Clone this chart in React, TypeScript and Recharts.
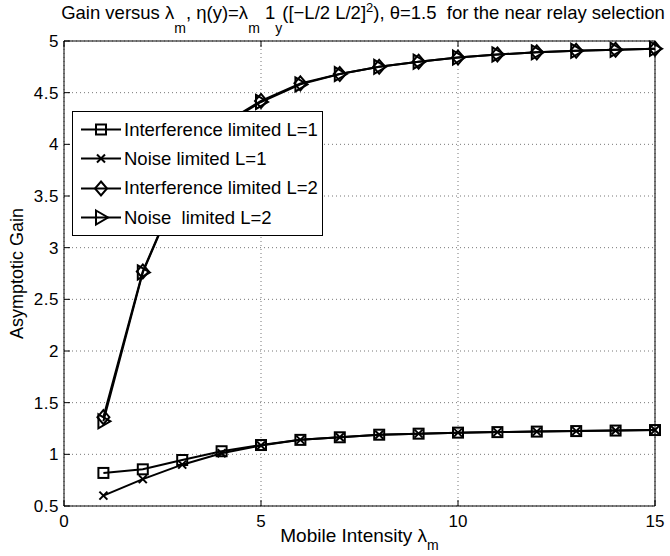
import React from 'react';
import { LineChart, Line, XAxis, YAxis, CartesianGrid, Legend } from 'recharts';

const mobileIntensity = [1, 2, 3, 4, 5, 6, 7, 8, 9, 10, 11, 12, 13, 14, 15];
const interferenceL1 = [0.82, 0.855, 0.945, 1.03, 1.09, 1.14, 1.165, 1.19, 1.2, 1.21, 1.215, 1.22, 1.225, 1.23, 1.235];
const noiseL1 = [0.6, 0.76, 0.9, 1.01, 1.085, 1.14, 1.165, 1.19, 1.2, 1.21, 1.215, 1.22, 1.225, 1.23, 1.235];
const interferenceL2 = [1.36, 2.77, 3.66, 4.19, 4.42, 4.59, 4.68, 4.75, 4.8, 4.84, 4.87, 4.89, 4.905, 4.915, 4.925];
const noiseL2 = [1.32, 2.76, 3.65, 4.18, 4.41, 4.58, 4.68, 4.75, 4.8, 4.84, 4.87, 4.89, 4.905, 4.915, 4.925];

const xTicks = [0, 5, 10, 15];
const yTicks = [0.5, 1, 1.5, 2, 2.5, 3, 3.5, 4, 4.5, 5];

const seriesNames = [
  'Interference limited L=1',
  'Noise limited L=1',
  'Interference limited L=2',
  'Noise  limited L=2',
];
const seriesKeys = ['intL1', 'noiseL1', 'intL2', 'noiseL2'];
const seriesShapes = ['square', 'cross', 'diamond', 'triangle'];

const data = mobileIntensity.map((x, i) => ({
  x,
  intL1: interferenceL1[i],
  noiseL1: noiseL1[i],
  intL2: interferenceL2[i],
  noiseL2: noiseL2[i],
}));

const FONT = '"Liberation Sans", Arial, Helvetica, sans-serif';

function Marker({ shape, cx, cy }: { shape: string; cx: number; cy: number }) {
  const common = { stroke: '#000', strokeWidth: 2, fill: 'none' };
  if (shape === 'square') {
    return <rect x={cx - 5} y={cy - 5} width={10} height={10} {...common} />;
  }
  if (shape === 'cross') {
    return (
      <g {...common}>
        <line x1={cx - 4} y1={cy - 4} x2={cx + 4} y2={cy + 4} />
        <line x1={cx - 4} y1={cy + 4} x2={cx + 4} y2={cy - 4} />
      </g>
    );
  }
  if (shape === 'diamond') {
    return (
      <polygon
        points={`${cx},${cy - 7} ${cx + 6},${cy} ${cx},${cy + 7} ${cx - 6},${cy}`}
        {...common}
      />
    );
  }
  return (
    <polygon
      points={`${cx - 5},${cy - 7} ${cx + 7},${cy} ${cx - 5},${cy + 7}`}
      {...common}
    />
  );
}

const makeDot = (shape: string) => (props: any) => {
  const { cx, cy, index } = props;
  if (cx == null || cy == null) return <g key={`e${index}`} />;
  return (
    <g key={`${shape}-${index}`}>
      <Marker shape={shape} cx={cx} cy={cy} />
    </g>
  );
};

const BottomTick = (props: any) => {
  const { x, y, payload } = props;
  return (
    <g>
      <line x1={x} y1={y} x2={x} y2={y - 6} stroke="#000" />
      <text x={x} y={y + 21} textAnchor="middle" fontSize={17} fontFamily={FONT} fill="#000">
        {String(payload.value)}
      </text>
    </g>
  );
};

const LeftTick = (props: any) => {
  const { x, y, payload } = props;
  return (
    <g>
      <line x1={x} y1={y} x2={x + 6} y2={y} stroke="#000" />
      <text x={x - 5} y={y + 6} textAnchor="end" fontSize={17} letterSpacing={0.5} fontFamily={FONT} fill="#000">
        {String(payload.value)}
      </text>
    </g>
  );
};

const RightTick = (props: any) => {
  const { x, y } = props;
  return <line x1={x} y1={y} x2={x - 6} y2={y} stroke="#000" />;
};

const TopTick = (props: any) => {
  const { x, y } = props;
  return <line x1={x} y1={y} x2={x} y2={y + 6} stroke="#000" />;
};

const XLabel = (props: any) => {
  const vb = props.viewBox;
  const cx = vb.x + vb.width / 2;
  return (
    <text x={cx} y={vb.y + 36} textAnchor="middle" fontSize={19} fontFamily={FONT} fill="#000">
      Mobile Intensity λ
      <tspan dy={8} fontSize={14}>m</tspan>
    </text>
  );
};

const YLabel = (props: any) => {
  const vb = props.viewBox;
  const x = vb.x - 1;
  const y = vb.y + vb.height / 2;
  return (
    <text
      x={x}
      y={y}
      transform={`rotate(-90, ${x}, ${y})`}
      textAnchor="middle"
      fontSize={18}
      fontFamily={FONT}
      fill="#000"
    >
      Asymptotic Gain
    </text>
  );
};

const Title = () => {
  const cx = 363;
  const y = 19;
  return (
    <text
      x={cx}
      y={y}
      textAnchor="middle"
      fontSize={18.5}
      fontFamily={FONT}
      fill="#000"
      style={{ whiteSpace: 'pre' }}
    >
      <tspan>Gain versus λ</tspan>
      <tspan dy={14} fontSize={14}>m</tspan>
      <tspan dy={-14}>, η(y)=λ</tspan>
      <tspan dy={14} fontSize={14}>m</tspan>
      <tspan dy={-14}> 1</tspan>
      <tspan dy={14} fontSize={14}>y</tspan>
      <tspan dy={-14}>([−L/2 L/2]</tspan>
      <tspan dy={-7} fontSize={13}>2</tspan>
      <tspan dy={7}>), θ=1.5  for the near relay selection</tspan>
    </text>
  );
};

const LegendBox = () => (
  <div
    style={{
      width: 251,
      height: 125,
      boxSizing: 'border-box',
      border: '1.3px solid #000',
      background: '#fff',
      paddingTop: 3,
      fontFamily: FONT,
    }}
  >
    {seriesNames.map((name, i) => (
      <div key={name} style={{ display: 'flex', alignItems: 'center', height: 29.3 }}>
        <svg width={51} height={29} style={{ flex: 'none' }}>
          <line x1={8} y1={14.5} x2={48} y2={14.5} stroke="#000" strokeWidth={2} />
          <Marker shape={seriesShapes[i]} cx={28} cy={14.5} />
        </svg>
        <span style={{ fontSize: 18.5, whiteSpace: 'pre', color: '#000' }}>{name}</span>
      </div>
    ))}
  </div>
);

export default function App() {
  return (
    <div style={{ position: 'absolute', left: 0, top: 0, width: 670, height: 556, background: '#fff' }}>
      <LineChart
        width={670}
        height={556}
        data={data}
        margin={{ top: 40, right: 14, bottom: 20, left: 24 }}
        style={{ fontFamily: FONT }}
      >
        <CartesianGrid stroke="#777" strokeDasharray="1 3" />
        <XAxis
          dataKey="x"
          type="number"
          domain={[0, 15]}
          ticks={xTicks}
          height={30}
          tickSize={0}
          tickMargin={0}
          tick={<BottomTick />}
          axisLine={{ stroke: '#000' }}
          tickLine={false}
          label={{ content: <XLabel /> }}
        />
        <XAxis
          xAxisId="t"
          orientation="top"
          dataKey="x"
          type="number"
          domain={[0, 15]}
          ticks={xTicks}
          height={1}
          tickSize={0}
          tickMargin={0}
          tick={<TopTick />}
          axisLine={{ stroke: '#000' }}
          tickLine={false}
          label={{ content: <Title /> }}
        />
        <YAxis
          type="number"
          domain={[0.5, 5]}
          ticks={yTicks}
          width={40}
          tickSize={0}
          tickMargin={0}
          tick={<LeftTick />}
          axisLine={{ stroke: '#000' }}
          tickLine={false}
          label={{ content: <YLabel /> }}
        />
        <YAxis
          yAxisId="r"
          orientation="right"
          type="number"
          domain={[0.5, 5]}
          ticks={yTicks}
          width={1}
          tickSize={0}
          tickMargin={0}
          tick={<RightTick />}
          axisLine={{ stroke: '#000' }}
          tickLine={false}
        />
        <Legend
          layout="horizontal"
          verticalAlign="middle"
          align="center"
          content={<LegendBox />}
          wrapperStyle={{ position: 'absolute', left: 72, top: 111, width: 251, height: 125 }}
        />
        {seriesKeys.map((k, i) => (
          <Line
            key={k}
            dataKey={k}
            name={seriesNames[i]}
            stroke="#000"
            strokeWidth={2}
            dot={makeDot(seriesShapes[i])}
            activeDot={false}
            isAnimationActive={false}
          />
        ))}
      </LineChart>
    </div>
  );
}
